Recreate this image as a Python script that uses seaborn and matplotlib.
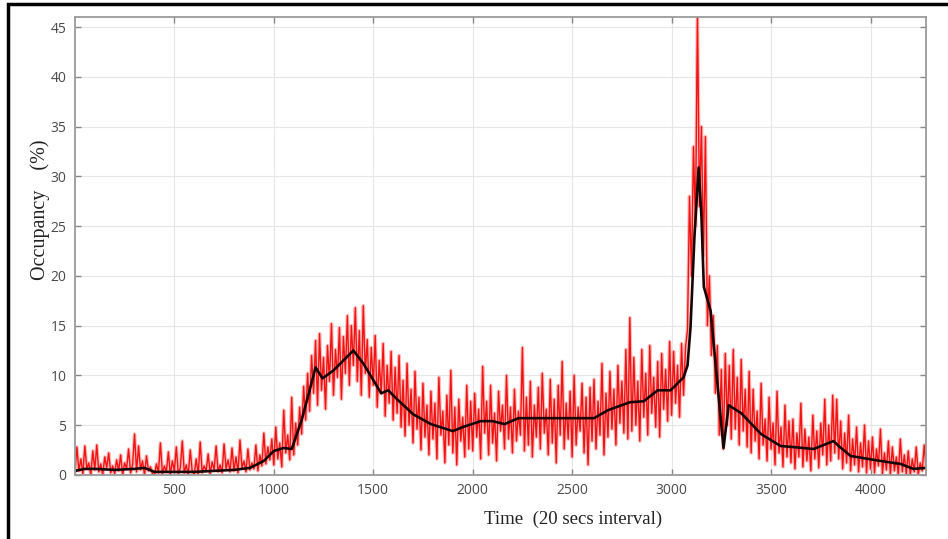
#!/usr/bin/env python3
# -*- coding: utf-8 -*-
"""
Occupancy (%) over time - raw signal (red) and smoothed trend (black)
"""

import numpy as np
import pandas as pd
import matplotlib.pyplot as plt
import matplotlib.patches as mpatches
import seaborn as sns

# raw occupancy, one value every 10 time steps (0 .. 4280)
raw_step = 10
raw_occ = [
    0.2, 2.8, 0.4, 1.6, 0.1, 2.9, 0.6, 1.2, 0.0, 2.4, 0.5, 3.0, 0.3, 1.1, 0.0, 1.8, 0.7, 2.2, 0.2, 0.9,
    0.1, 1.5, 0.4, 2.0, 0.0, 1.2, 0.6, 2.6, 0.2, 1.0, 4.1, 0.3, 2.9, 0.5, 1.4, 0.0, 1.9, 0.4, 0.8, 0.1,
    0.0, 1.1, 0.2, 3.2, 0.1, 0.9, 0.3, 2.3, 0.0, 1.4, 0.4, 2.8, 0.1, 0.7, 3.4, 0.2, 1.0, 0.0, 2.5, 0.3,
    0.1, 1.6, 0.0, 3.3, 0.2, 0.9, 0.4, 2.1, 0.1, 1.3, 0.5, 2.9, 0.3, 1.0, 0.2, 3.1, 0.6, 1.5, 0.3, 2.7,
    0.4, 1.8, 0.2, 3.5, 0.7, 1.4, 0.3, 2.6, 0.5, 1.2, 0.6, 3.0, 0.4, 2.0, 0.9, 4.2, 1.1, 2.8, 1.5, 3.6,
    1.0, 4.8, 1.6, 3.2, 0.8, 6.5, 2.2, 4.0, 1.5, 7.8, 2.0, 5.2, 3.0, 6.8, 4.1, 8.9, 5.5, 10.2, 6.4, 12.0,
    8.2, 13.5, 7.0, 14.2, 8.5, 11.8, 6.6, 13.0, 9.4, 15.2, 8.0, 12.6, 9.8, 14.8, 7.6, 13.9, 10.2, 16.0, 9.0, 15.0,
    11.0, 16.8, 9.4, 14.5, 8.0, 17.0, 10.2, 13.6, 7.8, 12.8, 9.0, 14.0, 6.8, 11.5, 8.2, 13.2, 5.9, 11.0, 7.2, 12.4,
    5.5, 10.8, 6.2, 12.0, 4.8, 9.5, 3.9, 11.2, 5.0, 8.6, 3.2, 10.4, 4.6, 7.8, 2.5, 9.2, 3.8, 7.0, 2.0, 8.4,
    3.6, 7.2, 1.6, 9.8, 4.0, 6.4, 1.2, 8.0, 3.0, 10.5, 2.2, 6.8, 1.0, 7.6, 3.4, 5.8, 1.8, 9.0, 2.6, 7.4,
    2.4, 8.2, 3.8, 6.6, 1.6, 10.9, 4.2, 7.4, 2.0, 9.0, 3.2, 6.2, 1.4, 8.4, 4.4, 7.0, 2.6, 10.0, 3.6, 6.8,
    2.2, 8.6, 3.4, 6.4, 4.0, 12.8, 2.4, 7.8, 3.0, 9.4, 1.8, 7.0, 3.8, 8.8, 2.6, 10.2, 4.2, 6.6, 2.0, 9.6,
    3.2, 7.6, 1.2, 9.0, 4.0, 11.4, 2.6, 7.2, 3.6, 8.4, 1.8, 10.0, 3.0, 6.8, 4.4, 9.2, 2.2, 7.8, 1.0, 8.8,
    3.4, 9.6, 2.6, 7.4, 4.0, 11.2, 2.0, 8.2, 3.8, 10.4, 4.6, 8.6, 3.0, 11.0, 5.2, 9.4, 4.2, 12.6, 3.6, 15.8,
    4.4, 11.8, 5.0, 9.4, 3.4, 12.6, 5.8, 10.2, 4.0, 13.0, 6.2, 9.8, 4.8, 11.4, 3.8, 12.2, 6.6, 10.6, 5.4, 13.4,
    6.0, 12.4, 7.2, 11.0, 5.8, 13.2, 8.0, 12.8, 14.6, 28.0, 20.0, 33.0, 25.0, 46.5, 27.0, 35.0, 22.0, 34.0, 15.0, 20.0,
    12.0, 16.0, 8.2, 13.0, 4.0, 10.6, 2.6, 12.2, 5.0, 11.0, 3.6, 12.6, 4.6, 9.8, 3.0, 11.6, 4.4, 8.6, 2.8, 10.4,
    2.2, 8.6, 3.4, 6.4, 1.6, 9.2, 3.0, 5.6, 1.4, 7.8, 2.6, 5.2, 1.0, 8.4, 2.2, 4.8, 0.8, 7.0, 1.8, 5.4,
    1.2, 5.6, 0.6, 4.2, 1.8, 7.2, 0.8, 4.6, 1.4, 3.8, 0.4, 6.0, 1.6, 4.4, 0.7, 5.2, 2.0, 7.6, 1.0, 5.0,
    1.4, 8.0, 2.2, 7.6, 1.6, 5.4, 0.6, 4.2, 1.2, 6.0, 0.4, 3.6, 1.0, 4.8, 0.3, 3.2, 0.8, 5.0, 0.2, 3.4,
    0.6, 3.8, 0.2, 2.6, 0.9, 4.6, 0.1, 2.2, 0.5, 3.4, 0.0, 2.8, 0.4, 1.8, 0.0, 3.6, 0.3, 2.0, 0.1, 2.4,
    0.0, 1.6, 0.3, 2.8, 0.0, 1.2, 0.4, 3.0, 0.6,
]

# smoothed trend (black curve)
trend_time = [0, 50, 100, 200, 300, 350, 400, 500, 600, 700,
              800, 880, 950, 1000, 1050, 1090, 1140, 1180, 1210, 1245,
              1300, 1350, 1400, 1450, 1540, 1575, 1620, 1700, 1790, 1900,
              1950, 2040, 2100, 2160, 2230, 2300, 2430, 2610, 2680, 2790,
              2860, 2930, 2995, 3060, 3080, 3095, 3115, 3136, 3150, 3162,
              3196, 3261, 3287, 3350, 3450, 3548, 3610, 3714, 3814,
              3840, 3900, 4050, 4150, 4216, 4280]
trend_occ = [0.4, 0.6, 0.6, 0.5, 0.6, 0.7, 0.3, 0.3, 0.3, 0.4,
             0.5, 0.7, 1.4, 2.4, 2.7, 2.6, 5.5, 8.5, 10.8, 9.7,
             10.5, 11.5, 12.5, 11.2, 8.2, 8.5, 7.6, 6.1, 5.1, 4.4,
             4.8, 5.4, 5.4, 5.1, 5.7, 5.7, 5.7, 5.7, 6.5, 7.3,
             7.4, 8.5, 8.5, 9.8, 11.0, 14.8, 24.0, 30.9, 26.0, 18.9,
             16.5, 2.7, 7.0, 6.2, 4.1, 2.9, 2.8, 2.6, 3.4,
             2.9, 1.9, 1.4, 1.1, 0.6, 0.7]

x_ticks = [500, 1000, 1500, 2000, 2500, 3000, 3500, 4000]
y_ticks = [0, 5, 10, 15, 20, 25, 30, 35, 40, 45]

sns.set_style("whitegrid")
plt.rcParams['font.family'] = ['Open Sans', 'DejaVu Sans']

raw_df = pd.DataFrame({'time': np.arange(len(raw_occ)) * raw_step, 'occ': raw_occ})
trend_df = pd.DataFrame({'time': trend_time, 'occ': trend_occ})

fig = plt.figure(figsize=(9.48, 5.39), dpi=100)
ax = fig.add_axes([0.079, 0.119, 0.898, 0.849])

# soft halo + core for the raw signal so it reads as a dense band
sns.lineplot(data=raw_df, x='time', y='occ', ax=ax, color='#ff3a3a',
             linewidth=2.6, alpha=0.35, estimator=None)
sns.lineplot(data=raw_df, x='time', y='occ', ax=ax, color='#f00000',
             linewidth=1.0, alpha=0.9, estimator=None)
sns.lineplot(data=trend_df, x='time', y='occ', ax=ax, color='#1a0505',
             linewidth=1.9, estimator=None)

ax.set_xlim(0, 4280)
ax.set_ylim(0, 46)
ax.set_xticks(x_ticks)
ax.set_yticks(y_ticks)
ax.set_xlabel('')
ax.set_ylabel('')
ax.grid(True, color='#e6e6e6', linewidth=0.8)
ax.tick_params(direction='in', length=4, width=1, color='#888888',
               labelcolor='#4a4a4a', labelsize=10,
               top=True, right=True, bottom=True, left=True, pad=6)
for sp in ax.spines.values():
    sp.set_color('#9a9a9a')
    sp.set_linewidth(1.3)

fig.text(573 / 948, 1 - 519 / 539, 'Time  (20 secs interval)', ha='center', va='center',
         fontsize=13.5, family='Liberation Serif', color='#222222')
fig.text(40 / 948, 1 - 210 / 539, 'Occupancy    (%)', ha='center', va='center',
         rotation=90, fontsize=14.5, family='Liberation Serif', color='#222222')

# outer frame of the picture (left and top edges visible)
frame = mpatches.Rectangle((8 / 948, -0.05), 1.2, 1.05 - 4 / 539, transform=fig.transFigure,
                           fill=False, edgecolor='black', linewidth=2.5)
fig.patches.append(frame)

plt.savefig('out.png', dpi=100)
plt.close()
